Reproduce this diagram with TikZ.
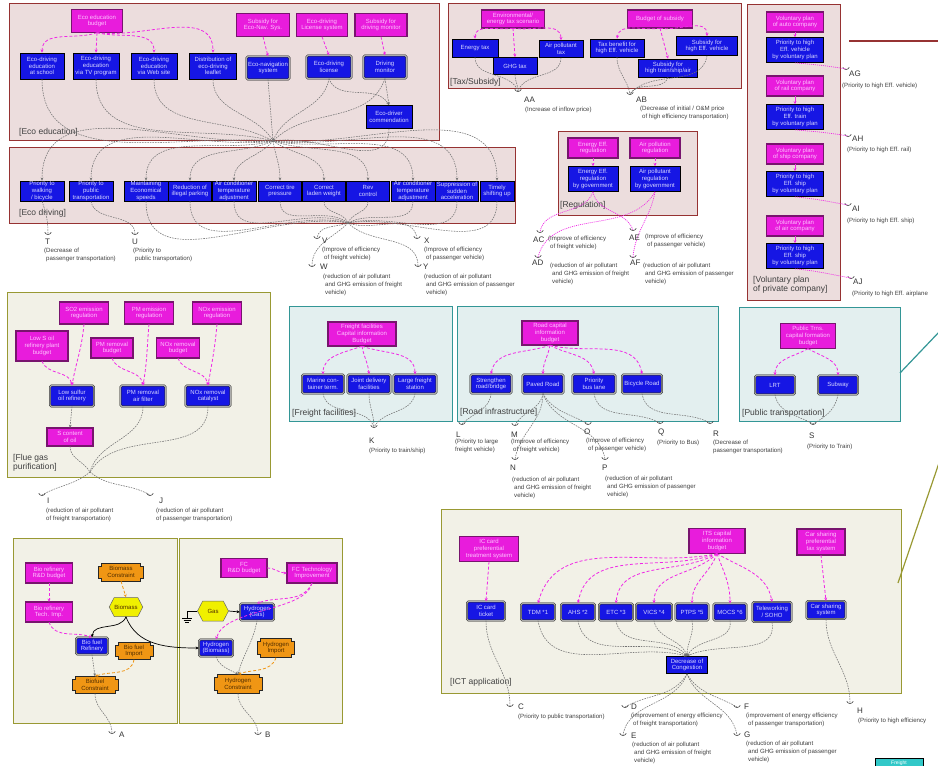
\documentclass[tikz,border=0pt]{standalone}
\usepackage{fontspec}
\setmainfont{Liberation Sans}
\usetikzlibrary{arrows.meta,calc,shapes.symbols}
\definecolor{magC}{RGB}{232,28,220}
\definecolor{magD}{RGB}{120,20,110}
\definecolor{magT}{RGB}{255,195,255}
\definecolor{magL}{RGB}{240,40,230}
\definecolor{blueC}{RGB}{22,22,228}
\definecolor{blueT}{RGB}{215,215,255}
\definecolor{pinkP}{RGB}{236,221,221}
\definecolor{redB}{RGB}{150,50,50}
\definecolor{creamP}{RGB}{242,241,231}
\definecolor{oliveB}{RGB}{153,153,51}
\definecolor{tealP}{RGB}{227,239,239}
\definecolor{tealB}{RGB}{51,150,150}
\definecolor{oraC}{RGB}{240,150,20}
\definecolor{yelC}{RGB}{240,240,0}
\definecolor{brownT}{RGB}{80,45,0}
\definecolor{grayL}{RGB}{115,115,115}
\definecolor{tealF}{RGB}{50,200,200}
\newcommand\cupat[3]{%
  \coordinate (#1) at (#2,#3);
  \draw[line width=0.55pt, black!80] ($(#1)+(-3.2,1.6)$) .. controls ($(#1)+(-1.5,-1.2)$) and ($(#1)+(1.5,-1.2)$) .. ($(#1)+(3.2,1.6)$);}
\newcommand\onode[6]{%
  \draw[fill=oraC, line width=0.6pt, draw=black!85]
   ({#2-#4/2+3},{#3+#5/2}) -- ({#2+#4/2-3},{#3+#5/2}) -- ++(0,-3) -- ++(3,0) --
   ({#2+#4/2},{#3-#5/2+3}) -- ++(-3,0) -- ++(0,-3) -- ({#2-#4/2+3},{#3-#5/2}) --
   ++(0,3) -- ++(-3,0) -- ({#2-#4/2},{#3+#5/2-3}) -- ++(3,0) -- cycle;
  \node[otext, minimum width=#4pt, minimum height=#5pt] (#1) at (#2,#3) {#6};}
\tikzset{
  wh/.style 2 args={minimum width=#1pt, minimum height=#2pt},
  boxtxt/.style={align=center, font=\fontsize{6}{6.6}\selectfont, inner sep=0.3pt},
  mbox/.style={boxtxt, fill=magC, draw=black, double=magD, double distance=1.1pt, line width=0.35pt, text=magT},
  bluebox/.style={boxtxt, fill=blueC, draw=black, line width=0.7pt, text=blueT},
  cyl/.style={boxtxt, fill=blueC, draw=black, double=gray!65, double distance=1.2pt, line width=0.35pt, rounded corners=1.5pt, text=blueT},
  otext/.style={boxtxt, text=brownT},
  hexa/.style={boxtxt, shape=signal, signal to=east and west, signal pointer angle=125, fill=yelC, draw=black!60, line width=0.5pt, text=brownT},
  plabel/.style={font=\fontsize{8.5}{9.6}\selectfont, text=black!75, inner sep=0pt, align=left},
  letter/.style={font=\fontsize{8}{8.5}\selectfont, inner sep=0pt, text=black!80},
  desc/.style={font=\fontsize{6.1}{7.8}\selectfont, inner sep=0pt, align=left, text=black!75},
  gcon/.style={draw=grayL, line width=0.55pt, dash pattern=on 1.6pt off 1pt},
  garr/.style={gcon, -{Stealth[length=3pt,width=2.6pt]}},
  marr/.style={draw=magL, line width=0.8pt, dash pattern=on 3pt off 2pt, -{Stealth[length=3.2pt,width=3pt]}},
  mdot/.style={draw=magL, line width=0.7pt, dash pattern=on 1pt off 1pt},
  msol/.style={draw=magL, line width=0.8pt, -{Stealth[length=3pt,width=3pt]}},
  oarr/.style={draw=oraC, line width=0.8pt, dash pattern=on 3pt off 2pt, -{Stealth[length=3.2pt,width=3pt]}},
  karr/.style={draw=black, line width=0.7pt, -{Stealth[length=3.2pt,width=3pt]}},
  panel/.style={line width=0.9pt},
}
\begin{document}
\begin{tikzpicture}[x=1pt,y=1pt]
\useasboundingbox (0,0) rectangle (938,-766);
\clip (0,0) rectangle (938,-766);
\fill[white] (0,0) rectangle (938,-766);

% ---------- panels ----------
\draw[panel, fill=pinkP, draw=redB] (9,-3) rectangle (439,-140);
\draw[panel, fill=pinkP, draw=redB] (9,-147) rectangle (515,-223);
\draw[panel, fill=pinkP, draw=redB] (448,-3) rectangle (741,-88);
\draw[panel, fill=pinkP, draw=redB] (747,-4) rectangle (840,-300);
\draw[panel, fill=pinkP, draw=redB] (558,-131) rectangle (697,-215);
\draw[panel, fill=creamP, draw=oliveB] (7,-292) rectangle (270,-477);
\draw[panel, fill=tealP, draw=tealB] (289,-306) rectangle (452,-421);
\draw[panel, fill=tealP, draw=tealB] (457,-306) rectangle (718,-421);
\draw[panel, fill=tealP, draw=tealB] (739,-307) rectangle (900,-421);
\draw[panel, fill=creamP, draw=oliveB] (13,-538) rectangle (177,-723);
\draw[panel, fill=creamP, draw=oliveB] (179,-538) rectangle (342,-723);
\draw[panel, fill=creamP, draw=oliveB] (441,-509) rectangle (901,-693);

% outgoing lines at the right edge
\coordinate (rl1) at (849,-41); \coordinate (rl2) at (940,-41);
\draw[redB, line width=1.6pt] (rl1) -- (rl2);
\coordinate (tl1) at (900,-373); \coordinate (tl2) at (940,-331);
\draw[tealB, line width=1.2pt] (tl1) -- (tl2);
\coordinate (ol1) at (898,-583); \coordinate (ol2) at (940,-460);
\draw[oliveB, line width=1.2pt] (ol1) -- (ol2);
\node[font=\fontsize{5}{5.5}\selectfont, inner sep=0.5pt, fill=tealF, draw=black, line width=0.6pt, text=white, wh={48}{9}, anchor=north] (frs) at (899,-758) {Freight};

% ---------- Eco education ----------
\node[mbox, wh={51}{23}] (eb) at (97,-21) {Eco education\\budget};
\node[mbox, wh={53}{23}] (sn) at (263,-25) {Subsidy for\\Eco-Nav. Sys.};
\node[mbox, wh={51}{23}] (ls) at (322,-25) {Eco-driving\\License system};
\node[mbox, wh={52}{23}] (sm) at (381,-25) {Subsidy for\\driving monitor};
\node[bluebox, wh={44}{26}] (e1) at (42,-66) {Eco-driving\\education\\at school};
\node[bluebox, wh={46}{26}] (e2) at (96,-66) {Eco-driving\\education\\via TV program};
\node[bluebox, wh={46}{26}] (e3) at (154,-66) {Eco-driving\\education\\via Web site};
\node[bluebox, wh={47}{26}] (e4) at (213,-66) {Distribution of\\eco-driving\\leaflet};
\node[cyl, wh={43}{23}] (en) at (268,-68) {Eco-navigation\\system};
\node[cyl, wh={45}{23}] (el) at (329,-67) {Eco-driving\\license};
\node[cyl, wh={43}{23}] (dm) at (385,-67) {Driving\\monitor};
\node[bluebox, wh={46}{23}] (ec) at (389,-117) {Eco-driver\\commendation};
\node[plabel, anchor=west] (lab1) at (19,-132) {[Eco education]};
\coordinate (ecoC) at (273,-141);
\draw[marr] (eb.south) to[out=-160,in=90] (e1.north);
\draw[marr] (eb.south) -- (e2.north);
\draw[marr] (eb.south) to[out=-15,in=90] (e3.north);
\draw[marr] (eb.south) to[out=-8,in=90] (e4.north);
\draw[marr] (sn.south) -- (en.north);
\draw[marr] (ls.south) -- (el.north);
\draw[marr] (sm.south) -- (dm.north);
\draw[garr] (el.south) to[out=-70,in=120] (ec.north);
\draw[garr] (dm.south) -- (ec.north);
\draw[gcon] (e1.south) to[out=-90,in=175] (ecoC);
\draw[gcon] (e2.south) to[out=-90,in=165] (ecoC);
\draw[gcon] (e3.south) to[out=-90,in=150] (ecoC);
\draw[gcon] (e4.south) to[out=-90,in=120] (ecoC);
\draw[garr] (en.south) -- (ecoC);
\draw[gcon] (el.south) to[out=-100,in=70] (ecoC);
\draw[gcon] (dm.south) to[out=-110,in=45] (ecoC);
\draw[gcon] (ec.south) to[out=-90,in=10] (ecoC);

% ---------- Eco driving ----------
\node[bluebox, wh={44}{20}] (d1) at (42,-191) {Priority to\\walking\\/ bicycle};
\node[bluebox, wh={44}{20}] (d2) at (91,-191) {Priority to\\public\\transportation};
\node[bluebox, wh={44}{20}] (d3) at (146,-191) {Maintaining\\Economical\\speeds};
\node[bluebox, wh={43}{20}] (d4) at (190,-191) {Reduction of\\illegal parking};
\node[bluebox, wh={44}{20}] (d5) at (234,-191) {Air conditioner\\temperature\\adjustment};
\node[bluebox, wh={43}{20}] (d6) at (280,-191) {Correct tire\\pressure};
\node[bluebox, wh={43}{20}] (d7) at (324,-191) {Correct\\laden weight};
\node[bluebox, wh={43}{20}] (d8) at (368,-191) {Rev\\control};
\node[bluebox, wh={44}{20}] (d9) at (413,-191) {Air conditioner\\temperature\\adjustment};
\node[bluebox, wh={43}{20}] (d10) at (457,-191) {Suppression of\\sudden\\acceleration};
\node[bluebox, wh={34}{20}] (d11) at (497,-191) {Timely\\shifting up};
\node[plabel, anchor=west] (lab2) at (19,-213) {[Eco driving]};
\foreach \n/\o in {d1/-176,d2/-172,d3/-165,d4/-155,d5/-130,d6/-80,d7/-35,d8/-20,d9/-12,d10/-8,d11/-5}
  \draw[garr] (ecoC) to[out=\o,in=90] (\n.north);
\coordinate (drvC) at (348,-223);
\foreach \n/\i in {d3/170,d4/165,d5/155,d6/140,d7/110,d8/70,d9/30,d10/15,d11/10}
  \draw[gcon] (\n.south) to[out=-90,in=\i] (drvC);
\cupat{T}{48}{-234}
\cupat{U}{135}{-234}
\cupat{V}{317}{-238}
\cupat{W}{312}{-266}
\cupat{X}{417}{-238}
\cupat{Y}{418}{-266}
\draw[gcon] (d1.south) to[out=-70,in=90] (T);
\draw[gcon] (d2.south) to[out=-80,in=90] (U);
\draw[gcon] (drvC) to[out=-160,in=80] (V);
\draw[gcon] (drvC) to[out=-135,in=90] (W);
\draw[gcon] (drvC) to[out=-20,in=100] (X);
\draw[gcon] (drvC) to[out=-45,in=90] (Y);
\node[letter, anchor=west] (tT) at (45,-242) {T};
\node[desc, anchor=north west] (xT) at (44,-248) {(Decrease of\\\hspace{2pt}passenger transportation)};
\node[letter, anchor=west] (tU) at (132,-242) {U};
\node[desc, anchor=north west] (xU) at (133,-248) {(Priority to\\\hspace{2pt}public transportation)};
\node[letter, anchor=west] (tV) at (322,-241) {V};
\node[desc, anchor=north west] (xV) at (322,-247) {(Improve of efficiency\\\hspace{2pt}of freight vehicle)};
\node[letter, anchor=west] (tW) at (320,-267) {W};
\node[desc, anchor=north west] (xW) at (323,-274) {(reduction of air pollutant\\\hspace{2pt}and GHG emission of freight\\\hspace{2pt}vehicle)};
\node[letter, anchor=west] (tX) at (424,-241) {X};
\node[desc, anchor=north west] (xX) at (424,-247) {(Improve of efficiency\\\hspace{2pt}of passenger vehicle)};
\node[letter, anchor=west] (tY) at (423,-267) {Y};
\node[desc, anchor=north west] (xY) at (424,-274) {(reduction of air pollutant\\\hspace{2pt}and GHG emission of passenger\\\hspace{2pt}vehicle)};

% ---------- Tax / Subsidy ----------
\node[mbox, wh={63}{18}] (ts) at (513,-19) {Environmental/\\energy tax scenario};
\node[mbox, wh={65}{18}] (bs) at (660,-19) {Budget of subsidy};
\node[bluebox, wh={46}{18}] (t1) at (475,-48) {Energy tax};
\node[bluebox, wh={44}{17}] (t2) at (515,-66) {GHG tax};
\node[bluebox, wh={44}{17}] (t3) at (561,-49) {Air pollutant\\tax};
\node[bluebox, wh={54}{18}] (s1) at (617,-48) {Tax benefit for\\high Eff. vehicle};
\node[bluebox, wh={59}{18}] (s2) at (668,-68) {Subsidy for\\high train/ship/air};
\node[bluebox, wh={61}{19}] (s3) at (707,-46) {Subsidy for\\high Eff. vehicle};
\node[plabel, anchor=west] (lab3) at (450,-82) {[Tax/Subsidy]};
\draw[marr] (ts.south) to[out=-170,in=90] (t1.north);
\draw[marr] (ts.south) -- (t2.north);
\draw[marr] (ts.south) to[out=-10,in=90] (t3.north);
\draw[marr] (bs.south) to[out=-170,in=80] (s1.north);
\draw[marr] (bs.south) -- (s2.north);
\draw[marr] (bs.south) to[out=-10,in=90] (s3.north);
\cupat{AA}{518}{-91}
\cupat{AB}{630}{-94}
\draw[gcon] (t1.south) to[out=-90,in=110] (AA);
\draw[gcon] (t2.south) to[out=-90,in=90] (AA);
\draw[gcon] (t3.south) to[out=-90,in=70] (AA);
\draw[gcon] (s1.south) to[out=-90,in=100] (AB);
\draw[gcon] (s2.south) to[out=-110,in=60] (AB);
\draw[gcon] (s3.south) to[out=-100,in=50] (AB);
\node[letter, anchor=west] (tAA) at (524,-100) {AA};
\node[desc, anchor=west] (xAA) at (525,-110) {(Increase of inflow price)};
\node[letter, anchor=west] (tAB) at (636,-100) {AB};
\node[desc, anchor=north west] (xAB) at (640,-106) {(Decrease of initial / O\&M price\\\hspace{2pt}of high efficiency transportation)};

% ---------- Voluntary plan ----------
\node[mbox, wh={57}{20}] (v1) at (795,-22) {Voluntary plan\\of auto company};
\node[bluebox, wh={57}{25}] (p1) at (795,-50) {Priority to high\\Eff. vehicle\\by voluntary plan};
\node[mbox, wh={57}{20}] (v2) at (795,-86) {Voluntary plan\\of rail company};
\node[bluebox, wh={57}{25}] (p2) at (795,-117) {Priority to high\\Eff. train\\by voluntary plan};
\node[mbox, wh={57}{20}] (v3) at (795,-154) {Voluntary plan\\of ship company};
\node[bluebox, wh={57}{25}] (p3) at (795,-184) {Priority to high\\Eff. ship\\by voluntary plan};
\node[mbox, wh={57}{20}] (v4) at (795,-226) {Voluntary plan\\of air company};
\node[bluebox, wh={57}{25}] (p4) at (795,-256) {Priority to high\\Eff. ship\\by voluntary plan};
\node[plabel, anchor=north west] (lab4) at (753,-276) {[Voluntary plan\\of private company]};
\draw[msol] (v1.south) -- (p1.north);
\draw[msol] (v2.south) -- (p2.north);
\draw[msol] (v3.south) -- (p3.north);
\draw[msol] (v4.south) -- (p4.north);
\cupat{AG}{846}{-69}
\cupat{AH}{848}{-136}
\cupat{AI}{848}{-205}
\cupat{AJ}{851}{-278}
\draw[mdot] (p1.south) to[out=-5,in=170] (AG);
\draw[mdot] (p2.south) to[out=-5,in=170] (AH);
\draw[mdot] (p3.south) to[out=-5,in=170] (AI);
\draw[mdot] (p4.south) to[out=-5,in=170] (AJ);
\node[letter, anchor=west] (tAG) at (849,-74) {AG};
\node[desc, anchor=west] (xAG) at (842,-86) {(Priority to high Eff. vehicle)};
\node[letter, anchor=west] (tAH) at (852,-139) {AH};
\node[desc, anchor=west] (xAH) at (847,-150) {(Priority to high Eff. rail)};
\node[letter, anchor=west] (tAI) at (852,-209) {AI};
\node[desc, anchor=west] (xAI) at (847,-221) {(Priority to high Eff. ship)};
\node[letter, anchor=west] (tAJ) at (853,-282) {AJ};
\node[desc, anchor=west] (xAJ) at (852,-294) {(Priority to high Eff. airplane};

% ---------- Regulation ----------
\node[mbox, wh={50}{20}] (r1) at (593,-148) {Energy Eff.\\regulation};
\node[mbox, wh={50}{20}] (r2) at (655,-148) {Air pollution\\regulation};
\node[bluebox, wh={50}{25}] (g1) at (593,-179) {Energy Eff.\\regulation\\by government};
\node[bluebox, wh={50}{25}] (g2) at (655,-179) {Air pollutant\\regulation\\by government};
\node[plabel, anchor=west] (lab5) at (560,-205) {[Regulation]};
\draw[marr] (r1.south) -- (g1.north);
\draw[marr] (r2.south) -- (g2.north);
\cupat{AC}{540}{-232}
\cupat{AD}{538}{-257}
\cupat{AE}{633}{-230}
\cupat{AF}{633}{-257}
\draw[mdot] (g1.south) to[out=-110,in=80] (AC);
\draw[mdot] (g1.south) to[out=-80,in=110] (AE);
\draw[mdot] (g2.south) to[out=-120,in=75] (AD);
\draw[mdot] (g2.south) to[out=-100,in=85] (AF);
\node[letter, anchor=west] (tAC) at (533,-240) {AC};
\node[desc, anchor=north west] (xAC) at (548,-236) {(Improve of efficiency\\\hspace{2pt}of freight vehicle)};
\node[letter, anchor=west] (tAD) at (532,-263) {AD};
\node[desc, anchor=north west] (xAD) at (550,-263) {(reduction of air pollutant\\\hspace{2pt}and GHG emission of freight\\\hspace{2pt}vehicle)};
\node[letter, anchor=west] (tAE) at (629,-238) {AE};
\node[desc, anchor=north west] (xAE) at (645,-234) {(Improve of efficiency\\\hspace{2pt}of passenger vehicle)};
\node[letter, anchor=west] (tAF) at (630,-263) {AF};
\node[desc, anchor=north west] (xAF) at (643,-263) {(reduction of air pollutant\\\hspace{2pt}and GHG emission of passenger\\\hspace{2pt}vehicle)};

% ---------- Flue gas purification ----------
\node[mbox, wh={49}{22}] (f1) at (84,-313) {SO2 emission\\regulation};
\node[mbox, wh={49}{22}] (f2) at (149,-313) {PM emission\\regulation};
\node[mbox, wh={49}{22}] (f3) at (217,-313) {NOx emission\\regulation};
\node[mbox, wh={52}{30}] (fb1) at (42,-346) {Low S oil\\refinery plant\\budget};
\node[mbox, wh={42}{20}] (fb2) at (112,-348) {PM removal\\budget};
\node[mbox, wh={43}{20}] (fb3) at (178,-348) {NOx removal\\budget};
\node[cyl, wh={44}{21}] (fc1) at (72,-396) {Low sulfur\\oil refinery};
\node[cyl, wh={45}{21}] (fc2) at (143,-396) {PM removal\\air filter};
\node[cyl, wh={45}{21}] (fc3) at (208,-396) {NOx removal\\catalyst};
\node[mbox, wh={46}{18}] (fs) at (70,-437) {S content\\of oil};
\node[plabel, anchor=north west] (lab6) at (13,-454) {[Flue gas\\purification]};
\draw[marr] (f1.south) to[out=-95,in=80] (fc1.north);
\draw[marr] (fb1.south) to[out=-70,in=100] (fc1.north);
\draw[marr] (f2.south) to[out=-95,in=80] (fc2.north);
\draw[marr] (fb2.south) to[out=-70,in=100] (fc2.north);
\draw[marr] (f3.south) to[out=-95,in=80] (fc3.north);
\draw[marr] (fb3.south) to[out=-70,in=100] (fc3.north);
\draw[garr] (fc1.south) -- (fs.north);
\coordinate (flC) at (90,-472);
\draw[gcon] (fs.south) to[out=-90,in=120] (flC);
\draw[gcon] (fc2.south) to[out=-90,in=75] (flC);
\draw[gcon] (fc3.south) to[out=-90,in=60] (flC);
\cupat{I}{42}{-495}
\cupat{J}{150}{-495}
\draw[gcon] (flC) to[out=-140,in=30] (I);
\draw[gcon] (flC) to[out=-40,in=150] (J);
\node[letter, anchor=west] (tI) at (47,-501) {I};
\node[desc, anchor=north west] (xI) at (46,-508) {(reduction of air pollutant\\of freight transportation)};
\node[letter, anchor=west] (tJ) at (159,-501) {J};
\node[desc, anchor=north west] (xJ) at (156,-508) {(reduction of air pollutant\\of passenger transportation)};

% ---------- Freight facilities ----------
\node[mbox, wh={68}{24}] (fr) at (362,-334) {Freight facilities\\Capital information\\Budget};
\node[cyl, wh={42}{19}] (fr1) at (323,-384) {Marine con-\\tainer term.};
\node[cyl, wh={43}{19}] (fr2) at (369,-384) {Joint delivery\\facilities};
\node[cyl, wh={43}{19}] (fr3) at (415,-384) {Large freight\\station};
\node[plabel, anchor=west] (lab7) at (292,-413) {[Freight facilities]};
\draw[marr] (fr.south) to[out=-160,in=90] (fr1.north);
\draw[marr] (fr.south) to[out=-80,in=95] (fr2.north);
\draw[marr] (fr.south) to[out=-20,in=90] (fr3.north);
\cupat{K}{374}{-427}
\draw[gcon] (fr1.south) to[out=-80,in=110] (K);
\draw[gcon] (fr2.south) to[out=-90,in=90] (K);
\draw[gcon] (fr3.south) to[out=-100,in=60] (K);
\node[letter, anchor=west] (tK) at (369,-441) {K};
\node[desc, anchor=west] (xK) at (369,-451) {(Priority to train/ship)};

% ---------- Road infrastructure ----------
\node[mbox, wh={56}{24}] (rb) at (550,-333) {Road capital\\information\\budget};
\node[cyl, wh={41}{19}] (ro1) at (491,-384) {Strengthen\\road/bridge};
\node[cyl, wh={41}{19}] (ro2) at (543,-384) {Paved Road};
\node[cyl, wh={43}{19}] (ro3) at (594,-384) {Priority\\bus lane};
\node[cyl, wh={40}{19}] (ro4) at (642,-384) {Bicycle Road};
\node[plabel, anchor=west] (lab8) at (460,-412) {[Road infrastructure]};
\draw[marr] (rb.south) to[out=-160,in=80] (ro1.north);
\draw[marr] (rb.south) to[out=-100,in=90] (ro2.north);
\draw[marr] (rb.south) to[out=-30,in=100] (ro3.north);
\draw[marr] (rb.south) to[out=-15,in=100] (ro4.north);
\cupat{L}{462}{-424}
\cupat{M}{515}{-425}
\cupat{N}{515}{-459}
\cupat{O}{588}{-424}
\cupat{P}{605}{-459}
\cupat{Q}{660}{-423}
\cupat{R}{710}{-423}
\draw[gcon] (ro1.south) to[out=-95,in=45] (L);
\draw[gcon] (ro2.south) to[out=-100,in=60] (M);
\draw[gcon] (ro2.south) to[out=-90,in=80] (N);
\draw[gcon] (ro2.south) to[out=-60,in=150] (O);
\draw[gcon] (ro2.south) to[out=-70,in=100] (P);
\draw[gcon] (ro3.south) to[out=-80,in=150] (Q);
\draw[gcon] (ro4.south) to[out=-80,in=150] (R);
\node[letter, anchor=west] (tL) at (456,-435) {L};
\node[desc, anchor=north west] (xL) at (455,-439) {(Priority to large\\freight vehicle)};
\node[letter, anchor=west] (tM) at (511,-435) {M};
\node[desc, anchor=north west] (xM) at (511,-439) {(Improve of efficiency\\\hspace{2pt}of freight vehicle)};
\node[letter, anchor=west] (tN) at (510,-468) {N};
\node[desc, anchor=north west] (xN) at (512,-477) {(reduction of air pollutant\\\hspace{2pt}and GHG emission of freight\\\hspace{2pt}vehicle)};
\node[letter, anchor=west] (tO) at (584,-432) {O};
\node[desc, anchor=north west] (xO) at (586,-438) {(Improve of efficiency\\\hspace{2pt}of passenger vehicle)};
\node[letter, anchor=west] (tP) at (602,-468) {P};
\node[desc, anchor=north west] (xP) at (605,-476) {(reduction of air pollutant\\\hspace{2pt}and GHG emission of passenger\\\hspace{2pt}vehicle)};
\node[letter, anchor=west] (tQ) at (658,-432) {Q};
\node[desc, anchor=north west] (xQ) at (657,-440) {(Priority to Bus)};
\node[letter, anchor=west] (tR) at (713,-434) {R};
\node[desc, anchor=north west] (xR) at (713,-440) {(Decrease of\\passenger transportation)};

% ---------- Public transportation ----------
\node[mbox, wh={55}{25}] (pb) at (808,-336) {Public Trns.\\capital formation\\budget};
\node[cyl, wh={40}{19}] (lrt) at (775,-385) {LRT};
\node[cyl, wh={40}{19}] (sub) at (838,-385) {Subway};
\node[plabel, anchor=west] (lab9) at (742,-413) {[Public transportation]};
\draw[marr] (pb.south) to[out=-150,in=90] (lrt.north);
\draw[marr] (pb.south) to[out=-30,in=90] (sub.north);
\cupat{S}{813}{-424}
\draw[gcon] (lrt.south) to[out=-80,in=150] (S);
\draw[gcon] (sub.south) to[out=-100,in=30] (S);
\node[letter, anchor=west] (tS) at (809,-436) {S};
\node[desc, anchor=west] (xS) at (807,-447) {(Priority to Train)};

% ---------- Bio fuel ----------
\node[mbox, wh={47}{20}] (bi1) at (49,-573) {Bio refinery\\R\&D budget};
\node[mbox, wh={47}{20}] (bi2) at (49,-612) {Bio refinery\\Tech. Imp.};
\onode{oc1}{121}{-572}{45}{18}{Biomass\\Constraint}
\node[hexa, wh={32}{19}] (bm) at (126,-607) {Biomass};
\node[cyl, wh={32}{17}] (bfr) at (92,-646) {Bio fuel\\Refinery};
\onode{bfi}{134}{-651}{38}{17}{Bio fuel\\Import}
\onode{bfc}{95}{-685}{46}{17}{Biofuel\\Constraint}
\draw[marr] (bi1.south) -- (bi2.north);
\draw[marr] (bi2.south) to[out=-70,in=160] (bfr.north);
\draw[oarr] (oc1.south) -- (bm.north);
\draw[karr] (bm.south) to[out=-110,in=85] (bfr.north);
\draw[garr] (bfr.south) -- (bfc.north);
\draw[oarr] (bfi.south) to[out=-100,in=20] (bfc.north);
\cupat{A}{112}{-733}
\draw[gcon] (bfc.south) to[out=-90,in=90] (A);
\node[letter, anchor=west] (tA) at (119,-735) {A};

% ---------- Hydrogen ----------
\node[mbox, wh={46}{19}] (fcr) at (244,-568) {FC\\R\&D budget};
\node[mbox, wh={50}{20}] (fct) at (312,-573) {FC Technology\\Improvement};
\node[hexa, wh={31}{20}] (gas) at (213,-611) {Gas};
\node[cyl, wh={34}{17}] (hg) at (257,-612) {Hydrogen\\(Gas)};
\node[cyl, wh={34}{17}] (hb) at (216,-648) {Hydrogen\\(Biomass)};
\onode{hi}{276}{-648}{37}{19}{Hydrogen\\Import}
\onode{hc}{238}{-684}{48}{19}{Hydrogen\\Constraint}
\coordinate (gnd) at (187,-618);
\draw[black, line width=0.7pt] (gas.west) -- (187,-611) -- (gnd);
\draw[black, line width=0.7pt] ($(gnd)+(-5,0)$) -- ($(gnd)+(5,0)$);
\draw[black, line width=0.7pt] ($(gnd)+(-3.5,-2)$) -- ($(gnd)+(3.5,-2)$);
\draw[black, line width=0.7pt] ($(gnd)+(-2,-4)$) -- ($(gnd)+(2,-4)$);
\draw[marr] (fcr.east) to[out=0,in=180] (fct.west);
\draw[marr] (fct.south) to[out=-115,in=20] (hg.north);
\draw[marr] (fct.south) .. controls (305,-612) and (225,-608) .. (hb.north);
\draw[karr] (gas.east) -- (hg.west);
\draw[karr] (bm.south) to[out=-70,in=180] (hb.west);
\draw[garr] (hg.south) to[out=-100,in=75] (hc.north);
\draw[garr] (hb.south) to[out=-70,in=150] (hc.north);
\draw[oarr] (hi.south) to[out=-110,in=20] (hc.north);
\cupat{B}{258}{-734}
\draw[gcon] (hc.south) to[out=-90,in=90] (B);
\node[letter, anchor=west] (tB) at (265,-735) {B};

% ---------- ICT application ----------
\node[mbox, wh={59}{25}] (ic) at (489,-549) {IC card\\preferential\\treatment system};
\node[mbox, wh={56}{25}] (its) at (717,-541) {ITS capital\\information\\budget};
\node[mbox, wh={48}{26}] (cs) at (821,-542) {Car sharing\\preferential\\tax system};
\node[cyl, wh={38}{19}] (ict) at (486,-611) {IC card\\ticket};
\node[cyl, wh={34}{17}] (i1) at (538,-612) {TDM *1};
\node[cyl, wh={34}{17}] (i2) at (578,-612) {AHS *2};
\node[cyl, wh={34}{17}] (i3) at (616,-612) {ETC *3};
\node[cyl, wh={36}{17}] (i4) at (654,-612) {VICS *4};
\node[cyl, wh={33}{17}] (i5) at (692,-612) {PTPS *5};
\node[cyl, wh={33}{17}] (i6) at (730,-612) {MOCS *6};
\node[cyl, wh={39}{20}] (i7) at (772,-612) {Teleworking\\/ SOHO};
\node[cyl, wh={39}{18}] (csy) at (826,-610) {Car sharing\\system};
\node[bluebox, wh={41}{17}] (dc) at (687,-665) {Decrease of\\Congestion};
\node[plabel, anchor=west] (lab10) at (450,-682) {[ICT application]};
\draw[marr] (ic.south) -- (ict.north);
\draw[marr] (cs.south) -- (csy.north);
\foreach \n/\o/\i in {i1/-168/75,i2/-160/80,i3/-150/85,i4/-135/90,i5/-110/90,i6/-70/90,i7/-30/100}
  \draw[marr] (its.south) to[out=\o,in=\i] (\n.north);
\foreach \n/\i in {i1/165,i2/150,i3/130,i4/110,i5/90,i6/60,i7/25}
  \draw[garr] (\n.south) to[out=-80,in=\i] (dc.north);
\cupat{C}{510}{-706}
\cupat{D}{625}{-707}
\cupat{E}{623}{-735}
\cupat{F}{737}{-707}
\cupat{G}{737}{-735}
\cupat{H}{850}{-703}
\draw[gcon] (ict.south) to[out=-90,in=90] (C);
\draw[gcon] (csy.south) to[out=-90,in=90] (H);
\draw[gcon] (dc.south) to[out=-120,in=30] (D);
\draw[gcon] (dc.south) to[out=-110,in=80] (E);
\draw[gcon] (dc.south) to[out=-60,in=150] (F);
\draw[gcon] (dc.south) to[out=-70,in=100] (G);
\node[letter, anchor=west] (tC) at (518,-707) {C};
\node[desc, anchor=west] (xC) at (518,-717) {(Priority to public transportation)};
\node[letter, anchor=west] (tD) at (631,-707) {D};
\node[desc, anchor=north west] (xD) at (631,-713) {(improvement of energy efficiency\\\hspace{2pt}of freight transportation)};
\node[letter, anchor=west] (tE) at (631,-736) {E};
\node[desc, anchor=north west] (xE) at (632,-742) {(reduction of air pollutant\\\hspace{2pt}and GHG emission of freight\\\hspace{2pt}vehicle)};
\node[letter, anchor=west] (tF) at (744,-707) {F};
\node[desc, anchor=north west] (xF) at (746,-713) {(improvement of energy efficiency\\\hspace{2pt}of passenger transportation)};
\node[letter, anchor=west] (tG) at (744,-735) {G};
\node[desc, anchor=north west] (xG) at (746,-741) {(reduction of air pollutant\\\hspace{2pt}and GHG emission of passenger\\\hspace{2pt}vehicle)};
\node[letter, anchor=west] (tH) at (857,-711) {H};
\node[desc, anchor=west] (xH) at (858,-721) {(Priority to high efficiency};
\end{tikzpicture}
\end{document}
